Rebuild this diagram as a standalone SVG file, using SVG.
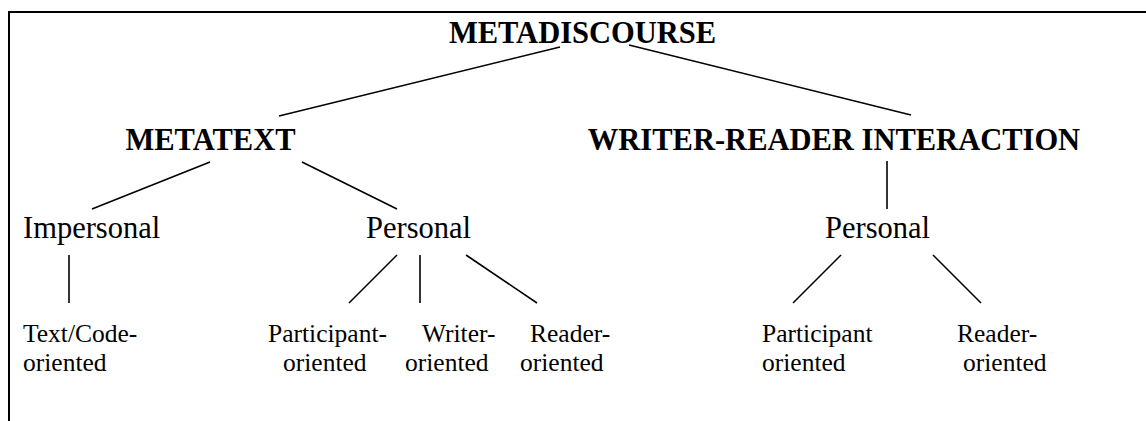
<svg xmlns="http://www.w3.org/2000/svg" width="1146" height="421" viewBox="0 0 1146 421">
  <style>
    text { font-family: "Liberation Serif", "Times New Roman", serif; fill: #000; }
    .head { font-size: 30.5px; font-weight: bold; text-anchor: middle; }
    .mid { font-size: 30.5px; }
    .leaf { font-size: 25.5px; }
    .frame { fill: none; stroke: #000; stroke-width: 2; }
    #connectors line { stroke: #000; stroke-width: 1.6; stroke-linecap: butt; }
  </style>
  <rect width="1146" height="421" fill="#fff"/>

  <!-- open frame: top and left rules -->
  <path class="frame" d="M9,421 V12 H1146"/>

  <g id="connectors">
    <line x1="560" y1="47" x2="279" y2="116"/>
    <line x1="629" y1="45" x2="911" y2="115"/>
    <line x1="210" y1="162" x2="92" y2="209"/>
    <line x1="302" y1="162" x2="397" y2="209"/>
    <line x1="887" y1="161" x2="887" y2="209"/>
    <line x1="69" y1="255" x2="69" y2="303"/>
    <line x1="397" y1="255" x2="349" y2="303"/>
    <line x1="420" y1="255" x2="420" y2="303"/>
    <line x1="466" y1="255" x2="537" y2="303"/>
    <line x1="841" y1="255" x2="793" y2="303"/>
    <line x1="933" y1="255" x2="981" y2="303"/>
  </g>

  <g id="metadiscourse"><text class="head" x="582.5" y="43">METADISCOURSE</text></g>
  <g id="metatext"><text class="head" x="210.5" y="150">METATEXT</text></g>
  <g id="writer-reader"><text class="head" x="834" y="150">WRITER-READER INTERACTION</text></g>

  <g id="impersonal"><text class="mid" x="23" y="237.5">Impersonal</text></g>
  <g id="personal-metatext"><text class="mid" x="366" y="237.5">Personal</text></g>
  <g id="personal-interaction"><text class="mid" x="825" y="237.5">Personal</text></g>

  <g id="text-code"><text class="leaf" x="23" y="342">Text/Code-</text><text class="leaf" x="23" y="371">oriented</text></g>
  <g id="participant-metatext"><text class="leaf" x="268" y="342">Participant-</text><text class="leaf" x="283" y="371">oriented</text></g>
  <g id="writer"><text class="leaf" x="422" y="342">Writer-</text><text class="leaf" x="405" y="371">oriented</text></g>
  <g id="reader-metatext"><text class="leaf" x="530" y="342">Reader-</text><text class="leaf" x="520" y="371">oriented</text></g>
  <g id="participant-interaction"><text class="leaf" x="762" y="342">Participant</text><text class="leaf" x="762" y="371">oriented</text></g>
  <g id="reader-interaction"><text class="leaf" x="957" y="342">Reader-</text><text class="leaf" x="963" y="371">oriented</text></g>
</svg>
